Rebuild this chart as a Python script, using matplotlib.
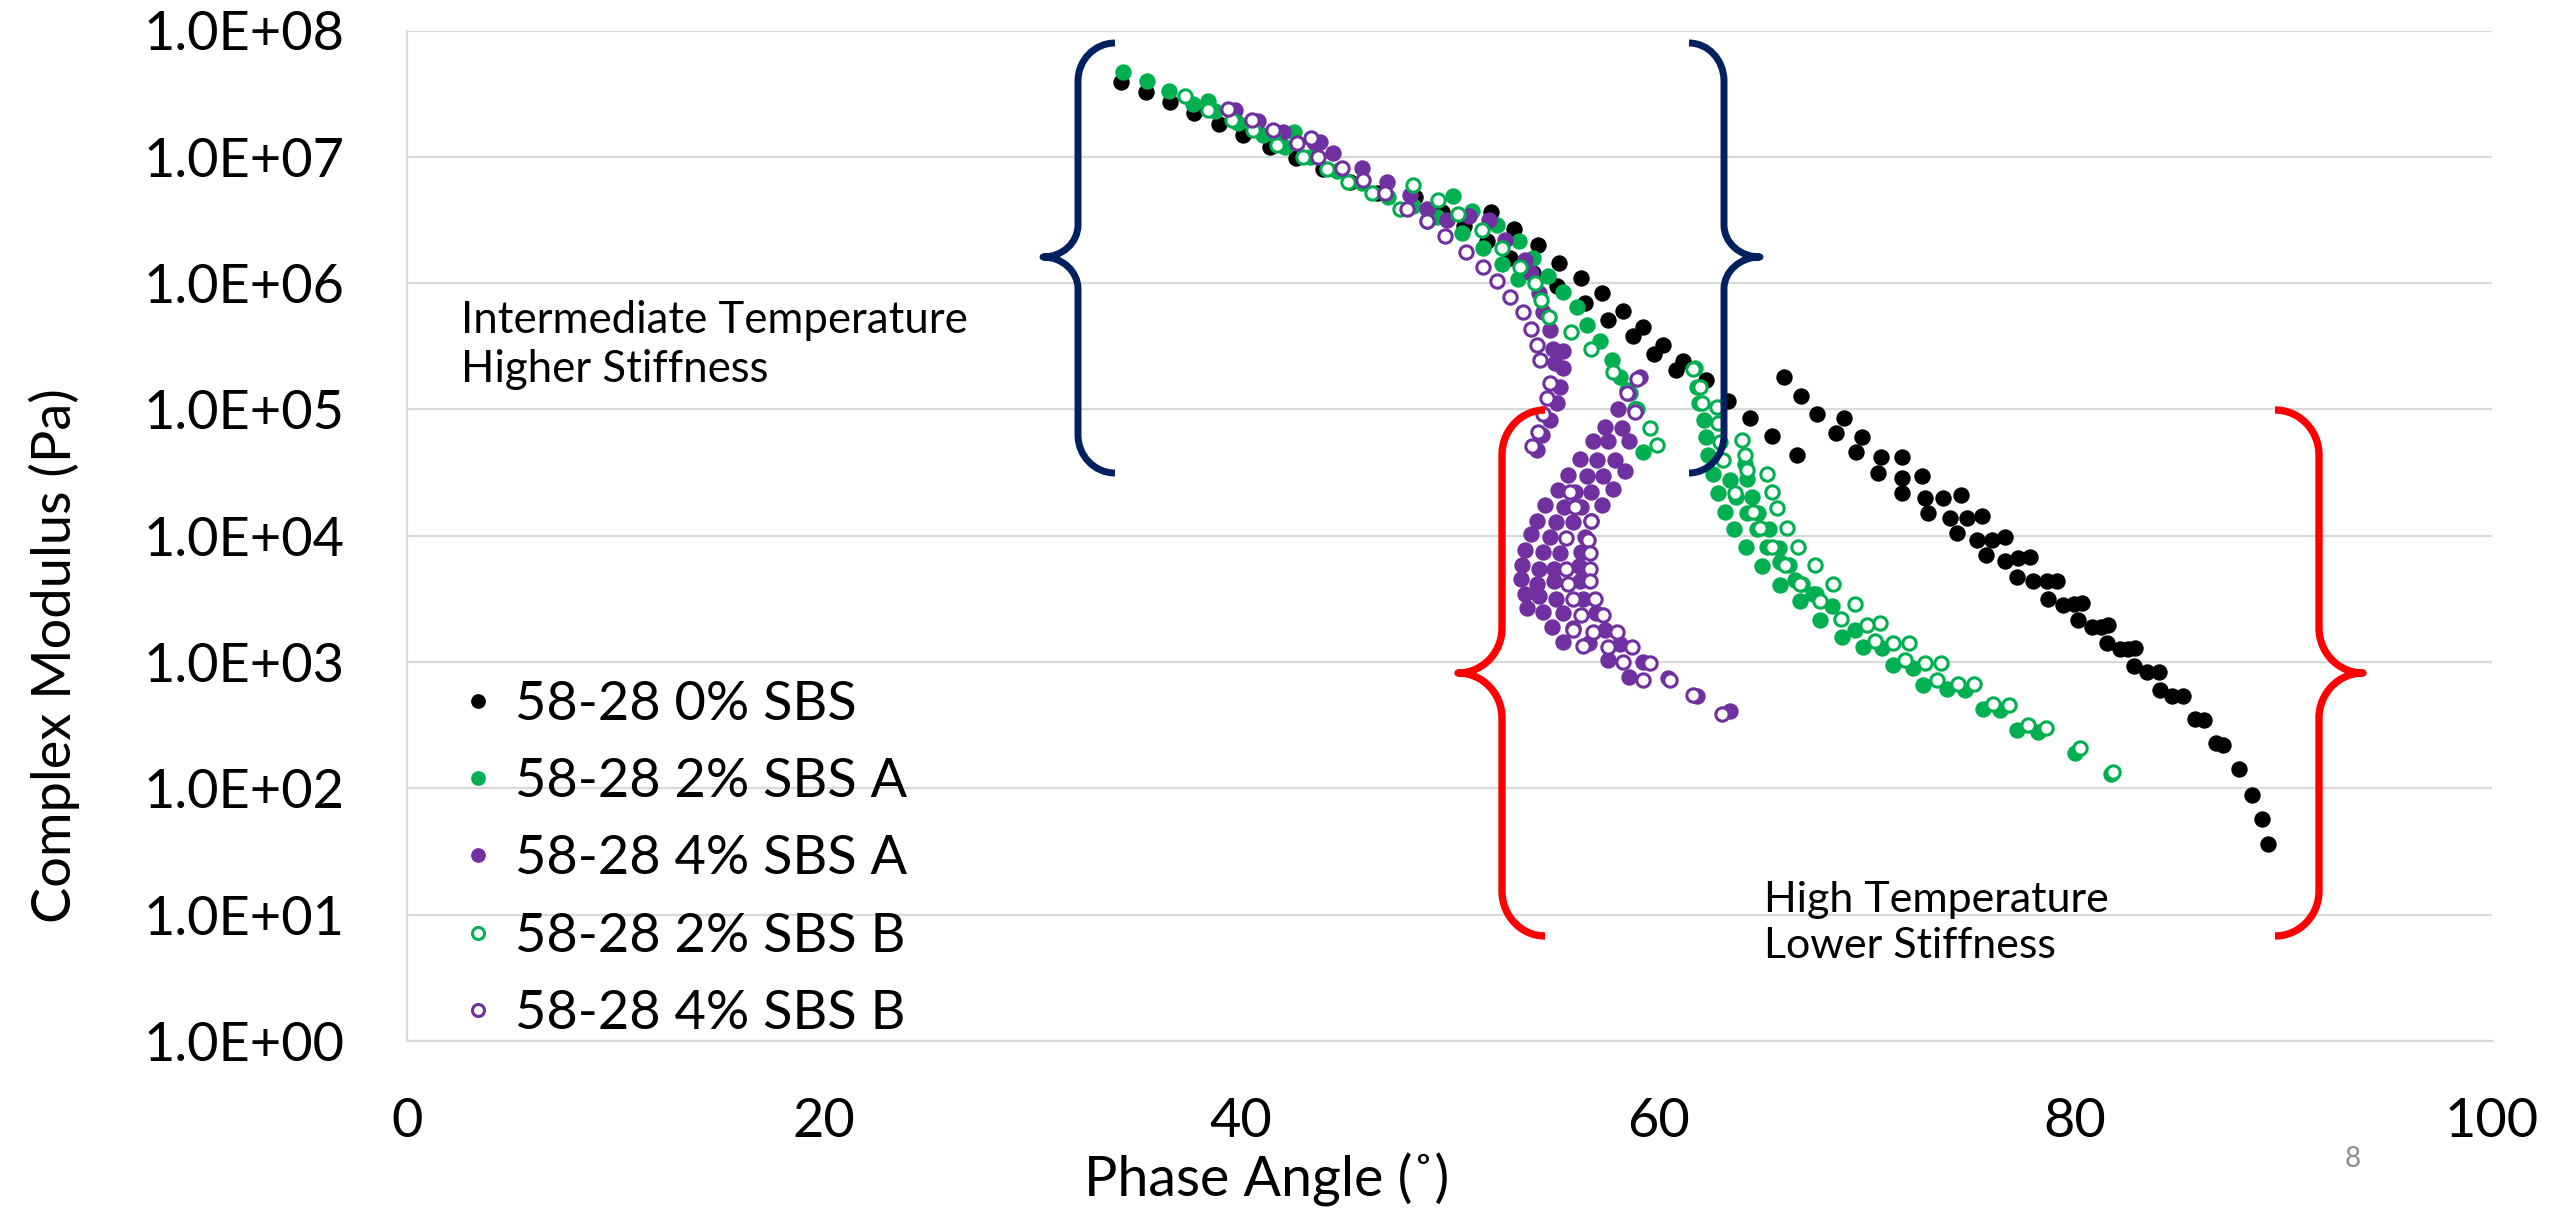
import numpy as np
import matplotlib
matplotlib.use("Agg")
import matplotlib.pyplot as plt
from matplotlib.path import Path
from matplotlib.patches import PathPatch
from matplotlib.transforms import Affine2D
from matplotlib.ticker import FuncFormatter

plt.rcParams['font.family'] = ['Lato', 'DejaVu Sans']

# phase angle (deg) and log10 of complex modulus (Pa) for each binder
phase_0 = [34.25, 35.43, 36.60, 37.76, 38.96, 40.11, 41.39, 42.62, 43.95, 45.23,
           46.51, 48.35, 49.63, 50.70, 51.80, 52.90, 54.00, 55.14, 56.50, 57.60,
           58.80, 59.83, 60.87,
           52.00, 53.10, 54.23, 55.27, 56.31, 57.30, 58.31, 59.27, 60.23, 61.22,
           62.30, 63.38, 64.42, 65.49, 66.69,
           66.05, 66.85, 67.64, 68.54, 69.48, 70.54, 71.72, 72.97, 74.33, 75.73,
           77.20, 78.69, 80.13, 81.52, 82.83, 84.08, 85.76, 86.77, 87.85, 88.50,
           88.96, 89.27,
           68.92, 69.79, 70.70, 71.69, 72.81, 74.01, 75.29, 76.64, 77.97, 79.44,
           80.80, 82.16, 83.44, 84.64, 86.20, 87.12,
           71.69, 72.65, 73.69, 74.84, 76.01, 77.29, 78.64, 79.95, 81.23, 82.56,
           84.05, 85.20,
           74.54, 75.53, 76.65, 77.85, 79.12, 80.35, 81.60, 82.88]
logg_0 = [7.59, 7.51, 7.43, 7.35, 7.26, 7.17, 7.08, 6.99, 6.90, 6.80,
          6.71, 6.68, 6.56, 6.45, 6.33, 6.20, 6.08, 5.98, 5.84, 5.71,
          5.58, 5.44, 5.31,
          6.56, 6.43, 6.30, 6.16, 6.04, 5.92, 5.78, 5.65, 5.51, 5.38,
          5.23, 5.07, 4.93, 4.79, 4.64,
          5.26, 5.11, 4.96, 4.81, 4.66, 4.50, 4.34, 4.18, 4.02, 3.85,
          3.67, 3.50, 3.33, 3.15, 2.97, 2.78, 2.55, 2.36, 2.15, 1.95,
          1.76, 1.56,
          4.93, 4.78, 4.62, 4.46, 4.30, 4.14, 3.97, 3.80, 3.64, 3.45,
          3.28, 3.10, 2.92, 2.73, 2.54, 2.34,
          4.62, 4.47, 4.30, 4.14, 3.97, 3.82, 3.64, 3.46, 3.28, 3.10,
          2.92, 2.73,
          4.32, 4.16, 3.99, 3.83, 3.64, 3.47, 3.29, 3.11]

phase_2a = [34.36, 35.48, 36.55, 37.68, 38.40, 38.75, 39.87, 41.07, 42.11, 42.56,
            43.31, 44.59, 45.79, 47.07, 48.27, 49.40, 50.60, 51.60, 52.50, 53.30,
            50.17, 51.07, 52.30, 53.35, 54.00, 54.74, 55.46, 56.10, 56.58, 57.22,
            57.78, 58.18, 58.66, 59.00, 59.30,
            61.76, 61.87, 61.98, 62.19, 62.30, 62.41, 62.62, 62.88, 63.22, 63.65,
            64.22, 64.97, 65.83, 66.79, 67.76, 68.83, 69.85, 71.26, 72.73, 73.85,
            74.73, 75.57, 76.40, 77.24, 78.24, 80.00, 81.73,
            63.46, 63.74, 64.26, 64.73, 65.21, 65.85, 66.57, 67.45, 68.33, 69.45,
            70.76, 72.22,
            64.18, 64.29, 64.50, 64.80, 65.30, 65.80, 66.30, 66.90, 67.60]
logg_2a = [7.67, 7.60, 7.52, 7.42, 7.44, 7.36, 7.27, 7.17, 7.08, 7.20,
           7.00, 6.89, 6.79, 6.68, 6.61, 6.52, 6.40, 6.28, 6.15, 6.03,
           6.69, 6.57, 6.46, 6.33, 6.20, 6.06, 5.93, 5.81, 5.67, 5.54,
           5.39, 5.26, 5.13, 5.00, 4.66,
           5.33, 5.18, 5.05, 4.92, 4.78, 4.64, 4.49, 4.34, 4.19, 4.05,
           3.91, 3.76, 3.61, 3.48, 3.33, 3.20, 3.12, 2.98, 2.82, 2.79,
           2.78, 2.63, 2.62, 2.46, 2.45, 2.28, 2.11,
           4.44, 4.31, 4.18, 4.05, 3.91, 3.79, 3.65, 3.54, 3.44, 3.25,
           3.11, 2.95,
           4.57, 4.45, 4.31, 4.18, 4.05, 3.90, 3.77, 3.62, 3.54]

phase_4a = [39.71, 40.83, 42.03, 43.50, 43.79, 44.43, 45.79, 46.99, 48.10, 48.90,
            49.86, 50.95, 51.90, 52.66, 53.64, 53.90, 54.30, 54.50, 54.82, 54.98,
            55.46, 55.06, 55.46, 55.30, 55.14, 54.82, 54.42, 54.18,
            59.14, 58.58, 58.90, 58.10, 57.46, 58.26, 58.63, 56.90, 57.62, 57.94,
            56.26, 57.06, 58.42,
            55.70, 56.58, 57.38, 55.20, 56.00, 56.80, 57.85, 54.60, 55.50, 56.30,
            57.30, 54.20, 55.10, 55.90, 56.80, 53.90, 54.80, 56.50, 53.60, 54.50,
            55.30, 56.30, 53.50, 54.30, 55.00, 56.20, 53.45, 54.20, 55.00, 56.25,
            53.60, 54.30, 55.10, 56.40, 53.70, 54.50, 55.45, 57.05, 54.90, 55.90,
            57.45, 55.45, 56.70, 58.20, 57.60, 59.30, 58.60, 60.50, 61.85, 63.45]
logg_4a = [7.37, 7.28, 7.20, 7.12, 7.12, 7.03, 6.91, 6.80, 6.70, 6.59,
           6.50, 6.53, 6.50, 6.34, 6.18, 6.08, 5.92, 5.77, 5.63, 5.48,
           5.46, 5.37, 5.33, 5.18, 5.05, 4.92, 4.80, 4.68,
           5.26, 5.13, 5.00, 5.00, 4.86, 4.85, 4.75, 4.75, 4.75, 4.60,
           4.61, 4.60, 4.51,
           4.48, 4.47, 4.47, 4.36, 4.35, 4.35, 4.37, 4.24, 4.23, 4.23,
           4.24, 4.12, 4.11, 4.11, 4.12, 4.01, 3.99, 3.99, 3.89, 3.87,
           3.86, 3.87, 3.77, 3.74, 3.74, 3.76, 3.66, 3.62, 3.64, 3.64,
           3.54, 3.52, 3.50, 3.50, 3.43, 3.40, 3.39, 3.39, 3.28, 3.27,
           3.25, 3.16, 3.15, 3.14, 3.02, 3.00, 2.88, 2.87, 2.73, 2.61]

phase_2b = [37.31, 38.43, 39.55, 40.59, 41.55, 41.71, 42.99, 44.11, 45.15, 46.27,
            47.63, 48.27, 49.47, 48.91,
            50.40, 51.56, 52.50, 53.40, 54.10, 54.40, 54.75, 55.85, 56.80, 57.86,
            58.50, 58.90, 59.62, 59.97,
            61.70, 62.00, 62.10, 62.82, 62.90, 62.98, 63.10, 63.70, 64.58, 64.90,
            65.45, 66.09, 66.81, 67.77, 68.80,
            64.02, 64.18, 64.26, 65.21, 65.45, 65.69, 66.17, 66.73, 67.53, 68.41,
            69.45, 70.65,
            70.00, 70.41, 71.29, 72.06, 71.85, 72.81, 73.56, 73.40, 74.41, 75.16,
            76.05, 76.85, 77.76, 78.61, 80.24, 81.84]
logg_2b = [7.48, 7.37, 7.29, 7.21, 7.19, 7.09, 7.00, 6.90, 6.80, 6.71,
           6.59, 6.78, 6.66, 6.49,
           6.55, 6.42, 6.28, 6.13, 6.00, 5.87, 5.73, 5.61, 5.48, 5.30,
           5.15, 5.00, 4.85, 4.72,
           5.32, 5.18, 5.05, 5.02, 4.89, 4.74, 4.60, 4.34, 4.19, 4.06,
           3.91, 3.77, 3.62, 3.48, 3.34,
           4.76, 4.64, 4.52, 4.49, 4.35, 4.22, 4.06, 3.91, 3.77, 3.62,
           3.46, 3.31,
           3.29, 3.17, 3.15, 3.15, 3.02, 2.99, 2.99, 2.86, 2.83, 2.83,
           2.67, 2.66, 2.50, 2.48, 2.32, 2.13]

phase_4b = [39.39, 40.51, 41.55, 42.67, 43.37, 43.71, 44.83, 45.87, 46.91, 47.95,
            48.91, 49.79, 50.80, 51.60, 52.30, 52.90, 53.54, 53.91, 54.18, 54.34,
            54.82, 54.69, 54.47, 54.26, 53.94,
            58.50, 58.90, 59.00,
            55.80, 56.00, 56.80, 55.60, 56.65, 56.73, 55.61, 56.73, 55.69, 56.73,
            55.93, 56.97, 56.33, 57.37, 55.93, 56.89, 58.01, 56.41, 57.61, 58.73,
            58.33, 59.61, 59.29, 60.57, 61.70, 63.05]
logg_4b = [7.38, 7.29, 7.21, 7.11, 7.15, 7.00, 6.91, 6.82, 6.71, 6.59,
           6.49, 6.37, 6.25, 6.13, 6.02, 5.89, 5.77, 5.64, 5.51, 5.39,
           5.21, 5.09, 4.96, 4.82, 4.71,
           5.13, 4.98, 5.24,
           4.35, 4.23, 4.12, 3.98, 3.97, 3.86, 3.74, 3.74, 3.62, 3.64,
           3.50, 3.50, 3.37, 3.37, 3.25, 3.24, 3.24, 3.13, 3.12, 3.12,
           3.00, 2.99, 2.86, 2.86, 2.74, 2.59]

labels = ['58-28 0% SBS', '58-28 2% SBS A', '58-28 4% SBS A',
          '58-28 2% SBS B', '58-28 4% SBS B']

black = '#000000'
green = '#00B050'
purple = '#7030A0'
navy = '#002060'
grid_c = '#D9D9D9'

W, H = 2554, 1215
fig = plt.figure(figsize=(W / 100, H / 100), dpi=100)
ax = fig.add_axes([407 / W, 1 - 1041 / H, 2085 / W, 1010.5 / H])

series = [
    (phase_0, logg_0, black, True),
    (phase_2a, logg_2a, green, True),
    (phase_4a, logg_4a, purple, True),
    (phase_2b, logg_2b, green, False),
    (phase_4b, logg_4b, purple, False),
]
for (ph, lg, col, filled), lab in zip(series, labels):
    g = np.power(10.0, np.array(lg))
    if filled:
        ax.plot(ph, g, 'o', ms=11.8, mfc=col, mec=col, mew=0, label=lab)
    else:
        ax.plot(ph, g, 'o', ms=9.6, mfc='white', mec=col, mew=2.2, label=lab)

ax.set_yscale('log')
ax.set_xlim(0, 100)
ax.set_ylim(1, 1e8)
ax.set_xticks(range(0, 101, 20))
ax.set_yticks([10.0 ** e for e in range(9)])
ax.minorticks_off()
ax.yaxis.set_major_formatter(FuncFormatter(lambda v, p: f'{v:.1E}'))
ax.tick_params(axis='both', length=0, labelsize=39)
ax.tick_params(axis='y', pad=45)
ax.tick_params(axis='x', pad=40)
ax.grid(axis='y', color=grid_c, lw=1.6)
ax.set_axisbelow(True)
for s in ('top', 'right'):
    ax.spines[s].set_visible(False)
for s in ('left', 'bottom'):
    ax.spines[s].set_color(grid_c)
    ax.spines[s].set_linewidth(1.6)

ax.set_xlabel('Phase Angle (˚)', fontsize=40)
ax.xaxis.set_label_coords(0.4125, -0.111)
ax.set_ylabel('Complex Modulus (Pa)', fontsize=39)
ax.yaxis.set_label_coords(-0.157, 0.381)

ax.legend(loc='upper left', bbox_to_anchor=(462 / W, 1 - 680 / H),
          bbox_transform=fig.transFigure, frameon=False, fontsize=39,
          handlelength=0.6, handletextpad=0.37, labelspacing=0.52,
          borderpad=0, borderaxespad=0, markerscale=0.9)

ax.text(2.6, 10 ** 5.51, 'Intermediate Temperature\nHigher Stiffness',
        fontsize=31.5, ha='left', va='center', linespacing=1.25)
ax.text(65.1, 10 ** 0.934, 'High Temperature\nLower Stiffness',
        fontsize=31, ha='left', va='center', linespacing=1.25)
fig.text(2353 / W, 1 - 1159 / H, '8', fontsize=20, color='#8C8C8C',
         ha='center', va='center')

# curly braces, laid out in pixel units from the top-left corner
px = Affine2D().scale(1 / W, -1 / H).translate(0, 1) + fig.transFigure


def brace(x_end, x_vert, x_tip, y_top, y_mid, y_bot, r_end, r_tip, color, lw):
    k = 0.5523
    a_end = x_vert - x_end
    a_tip = x_vert - x_tip
    verts = [
        (x_end, y_top),
        (x_end + k * a_end, y_top), (x_vert, y_top + r_end - k * r_end), (x_vert, y_top + r_end),
        (x_vert, y_mid - r_tip),
        (x_vert, y_mid - r_tip + k * r_tip), (x_tip + k * a_tip, y_mid), (x_tip, y_mid),
        (x_tip + k * a_tip, y_mid), (x_vert, y_mid + r_tip - k * r_tip), (x_vert, y_mid + r_tip),
        (x_vert, y_bot - r_end),
        (x_vert, y_bot - r_end + k * r_end), (x_end + k * a_end, y_bot), (x_end, y_bot),
    ]
    codes = ([Path.MOVETO] + [Path.CURVE4] * 3 + [Path.LINETO] + [Path.CURVE4] * 6
             + [Path.LINETO] + [Path.CURVE4] * 3)
    fig.add_artist(PathPatch(Path(verts, codes), fill=False, edgecolor=color,
                             lw=lw, capstyle='butt', joinstyle='round',
                             transform=px, zorder=5))


brace(1115, 1078, 1043, 43, 257, 473, 38, 32, navy, 5.0)
brace(1689, 1724, 1760, 43, 257, 473, 38, 32, navy, 5.0)
brace(1545, 1502, 1458, 410, 673, 936, 45, 45, 'red', 5.3)
brace(2275, 2319, 2363, 410, 673, 936, 45, 45, 'red', 5.3)

fig.savefig('out.png', dpi=100)
